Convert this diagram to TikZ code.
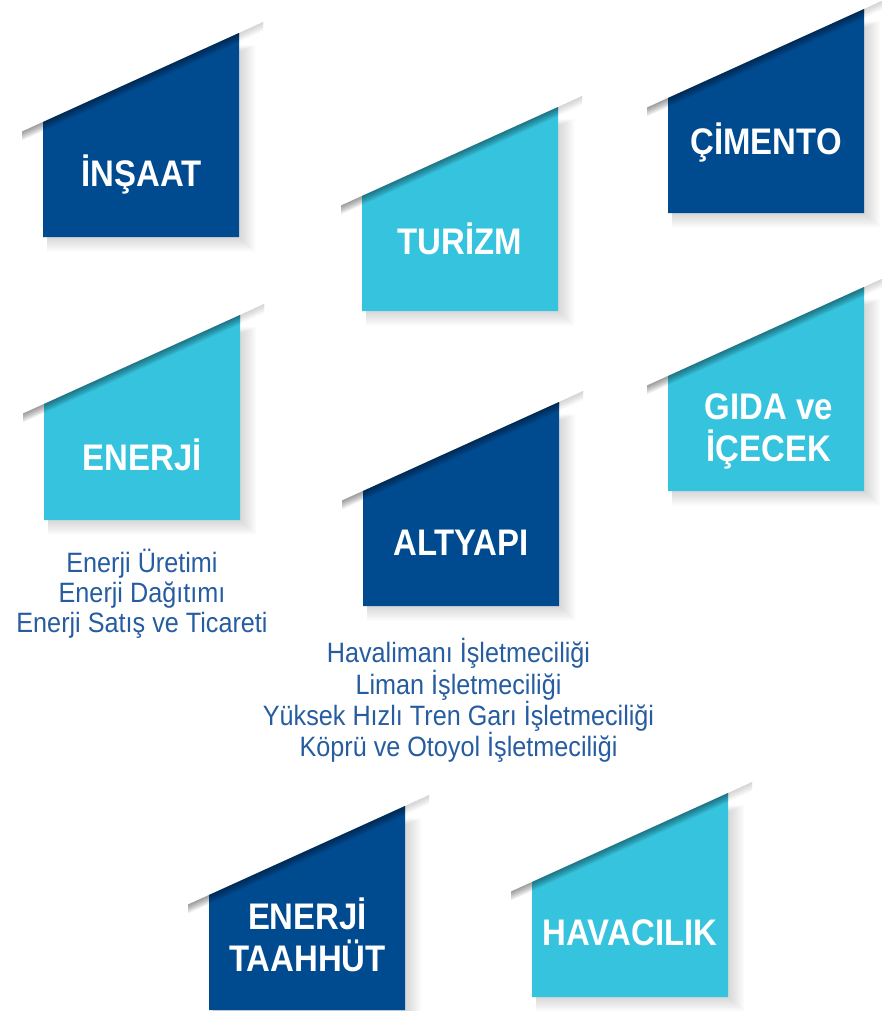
\documentclass[tikz,border=0pt]{standalone}
\usepackage{fontspec}
\newfontfamily\tilefont[FakeStretch=0.89]{Liberation Sans}
\newfontfamily\listfont[FakeStretch=0.9]{Liberation Sans}
\definecolor{tiledark}{RGB}{0,74,143}
\definecolor{tilecyan}{RGB}{54,195,222}
\definecolor{listblue}{RGB}{38,92,160}
\tikzset{
    tilelabel/.style={text=white, font=\tilefont\bfseries\fontsize{37}{42}\selectfont, align=center, inner sep=0pt},
    tilelist/.style={text=listblue, font=\listfont\fontsize{28}{30}\selectfont, align=center, inner sep=0pt}
}
\begin{document}
\begin{tikzpicture}[x=1pt, y=-1pt]
    \useasboundingbox (0, 0) rectangle (881, 1011);
    \foreach \l/\t/\b/\c in {43/33/237/tiledark, 362/107/311/tilecyan, 668/9/213/tiledark, 44/315/520/tilecyan,
                             668/287/491/tilecyan, 363/402/606/tiledark, 209/806/1010/tiledark, 532/793/997/tilecyan} {
        \foreach \k in {1,...,8}
            \fill[black, opacity=0.02] (\l+4, \b+1.8*\k) -- (\l+196+2*\k, \b+1.8*\k) -- (\l+196+2*\k, \t+12) -- (\l+4, \t+101) -- cycle;
        \fill[\c] (\l, \b) -- (\l+196, \b) -- (\l+196, \t) -- (\l, \t+89) -- cycle;
        \foreach \k in {1,...,9} {
            \fill[black, opacity=0.05] (\l-21, \t+98.5) -- (\l+196, \t) -- (\l+196, \t+\k) -- (\l-21, \t+98.5+\k) -- cycle;
            \fill[black, opacity=0.02] (\l+196, \t) -- (\l+220, \t-11) -- (\l+220, \t-11+\k) -- (\l+196, \t+\k) -- cycle;
        }
    }
    \node[tilelabel, anchor=base] (insaat) at (141.5, 186.5) {İNŞAAT};
    \node[tilelabel, anchor=base] (turizm) at (460, 254) {TURİZM};
    \node[tilelabel, anchor=base] (cimento) at (766, 155) {ÇİMENTO};
    \node[tilelabel, anchor=base] (enerji) at (142, 470) {ENERJİ};
    \node[tilelabel] (gida) at (769, 431) {GIDA ve\\İÇECEK};
    \node[tilelabel, anchor=base] (altyapi) at (461, 555) {ALTYAPI};
    \node[tilelabel] (taahhut) at (307.5, 934.5) {ENERJİ\\TAAHHÜT};
    \node[tilelabel, anchor=base] (havacilik) at (630, 945) {HAVACILIK};
    \node[tilelist] (enerjilist) at (142, 594) {Enerji Üretimi\\Enerji Dağıtımı\\Enerji Satış ve Ticareti};
    \node[tilelist] (altyapilist) at (458.5, 700.5) {Havalimanı İşletmeciliği\\Liman İşletmeciliği\\Yüksek Hızlı Tren Garı İşletmeciliği\\Köprü ve Otoyol İşletmeciliği};
\end{tikzpicture}
\end{document}
